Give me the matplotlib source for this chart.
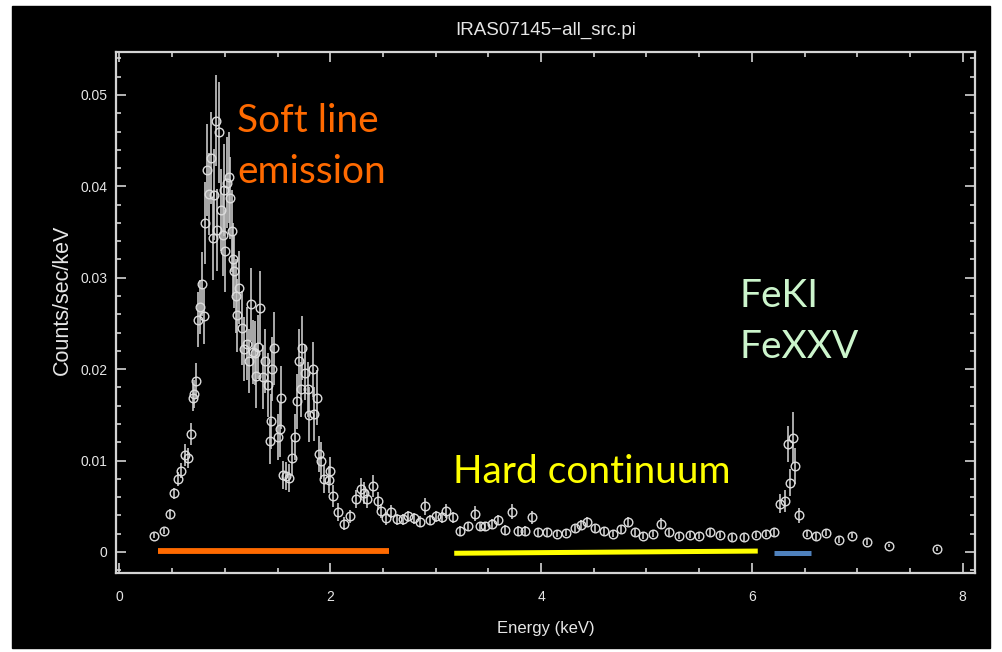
import numpy as np
import matplotlib
matplotlib.use("Agg")
import matplotlib.pyplot as plt
from matplotlib.patches import Rectangle
from matplotlib.ticker import MultipleLocator

# spectrum: energy (keV), rate (counts/sec/keV), 1-sigma error
energy = [0.33, 0.42, 0.48, 0.52, 0.555, 0.58, 0.62, 0.65, 0.675, 0.695,
          0.71, 0.73, 0.745, 0.76, 0.78, 0.80, 0.81, 0.83, 0.85, 0.87,
          0.885, 0.90, 0.915, 0.93, 0.945, 0.96, 0.98, 0.99, 1.00, 1.02,
          1.036, 1.05, 1.065, 1.075, 1.09, 1.105, 1.115, 1.13, 1.16, 1.18,
          1.21, 1.23, 1.245, 1.27, 1.285, 1.30, 1.31, 1.33, 1.36, 1.38,
          1.41, 1.43, 1.44, 1.45, 1.47, 1.50, 1.52, 1.53, 1.55, 1.58,
          1.61, 1.64, 1.665, 1.68, 1.70, 1.72, 1.73, 1.76, 1.79, 1.80,
          1.84, 1.85, 1.87, 1.89, 1.915, 1.94, 1.985, 2.00, 2.03, 2.07,
          2.13, 2.19, 2.24, 2.29, 2.32, 2.35, 2.41, 2.45, 2.48, 2.53,
          2.58, 2.63, 2.69, 2.74, 2.79, 2.85, 2.90, 2.95, 3.00, 3.06,
          3.10, 3.16, 3.23, 3.31, 3.37, 3.42, 3.47, 3.53, 3.59, 3.66,
          3.72, 3.78, 3.85, 3.91, 3.97, 4.06, 4.15, 4.24, 4.32, 4.38,
          4.44, 4.51, 4.60, 4.68, 4.76, 4.82, 4.89, 4.97, 5.06, 5.14,
          5.21, 5.31, 5.41, 5.50, 5.60, 5.70, 5.81, 5.93, 6.04, 6.13,
          6.21, 6.27, 6.31, 6.34, 6.36, 6.39, 6.41, 6.45, 6.52, 6.61,
          6.70, 6.83, 6.95, 7.09, 7.30, 7.76]
rate = [0.0018, 0.0023, 0.0042, 0.0064, 0.0080, 0.0089, 0.0106, 0.0103, 0.0129, 0.0169,
        0.0173, 0.0187, 0.0254, 0.0268, 0.0293, 0.0258, 0.0360, 0.0418, 0.0392, 0.0431,
        0.0343, 0.0391, 0.0472, 0.0352, 0.0459, 0.0374, 0.0347, 0.0396, 0.0329, 0.0404,
        0.0410, 0.0387, 0.0351, 0.0320, 0.0307, 0.0280, 0.0259, 0.0289, 0.0245, 0.0222,
        0.0228, 0.0209, 0.0271, 0.0219, 0.0218, 0.0192, 0.0224, 0.0267, 0.0191, 0.0209,
        0.0183, 0.0121, 0.0143, 0.0200, 0.0223, 0.0126, 0.0134, 0.0169, 0.0084, 0.0083,
        0.0081, 0.0103, 0.0126, 0.0165, 0.0209, 0.0178, 0.0223, 0.0196, 0.0178, 0.0150,
        0.0200, 0.0151, 0.0169, 0.0107, 0.0100, 0.0080, 0.0079, 0.0089, 0.0061, 0.0044,
        0.0031, 0.0039, 0.0058, 0.0069, 0.0065, 0.0058, 0.0072, 0.0056, 0.0045, 0.0037,
        0.0044, 0.0036, 0.0036, 0.0039, 0.0037, 0.0033, 0.0050, 0.0035, 0.0039, 0.0038,
        0.0045, 0.0038, 0.0023, 0.0028, 0.0042, 0.0028, 0.0028, 0.0031, 0.0035, 0.0024,
        0.0044, 0.0023, 0.0023, 0.0038, 0.0022, 0.0022, 0.0020, 0.0021, 0.0026, 0.0030,
        0.0033, 0.0026, 0.0023, 0.0020, 0.0025, 0.0033, 0.0022, 0.0018, 0.0020, 0.0031,
        0.0022, 0.0018, 0.0019, 0.0018, 0.0022, 0.0019, 0.0016, 0.0016, 0.0019, 0.0020,
        0.0022, 0.0053, 0.0056, 0.0118, 0.0076, 0.0125, 0.0094, 0.0040, 0.0020, 0.0017,
        0.0021, 0.0013, 0.0018, 0.0011, 0.0007, 0.0003]
rate_err = [0.0003, 0.0003, 0.0005, 0.0006, 0.0008, 0.0008, 0.0012, 0.0011, 0.0012, 0.0015,
            0.0015, 0.0020, 0.0030, 0.0030, 0.0035, 0.0030, 0.0045, 0.0050, 0.0045, 0.0050,
            0.0045, 0.0050, 0.0050, 0.0045, 0.0055, 0.0045, 0.0045, 0.0050, 0.0045, 0.0050,
            0.0050, 0.0045, 0.0045, 0.0040, 0.0040, 0.0040, 0.0040, 0.0040, 0.0040, 0.0035,
            0.0040, 0.0035, 0.0040, 0.0035, 0.0035, 0.0035, 0.0035, 0.0040, 0.0035, 0.0035,
            0.0035, 0.0025, 0.0030, 0.0035, 0.0040, 0.0025, 0.0030, 0.0035, 0.0015, 0.0015,
            0.0015, 0.0020, 0.0025, 0.0030, 0.0035, 0.0030, 0.0035, 0.0030, 0.0030, 0.0030,
            0.0030, 0.0030, 0.0030, 0.0020, 0.0020, 0.0015, 0.0015, 0.0015, 0.0012, 0.0010,
            0.0007, 0.0007, 0.0010, 0.0012, 0.0012, 0.0010, 0.0012, 0.0010, 0.0008, 0.0007,
            0.0007, 0.0006, 0.0006, 0.0006, 0.0006, 0.0006, 0.0009, 0.0006, 0.0006, 0.0006,
            0.0008, 0.0006, 0.0005, 0.0005, 0.0008, 0.0005, 0.0005, 0.0005, 0.0006, 0.0005,
            0.0008, 0.0005, 0.0005, 0.0007, 0.0004, 0.0004, 0.0004, 0.0004, 0.0004, 0.0005,
            0.0005, 0.0004, 0.0004, 0.0004, 0.0004, 0.0005, 0.0004, 0.0004, 0.0004, 0.0006,
            0.0004, 0.0004, 0.0004, 0.0004, 0.0004, 0.0004, 0.0004, 0.0004, 0.0004, 0.0004,
            0.0004, 0.0010, 0.0012, 0.0020, 0.0015, 0.0028, 0.0020, 0.0008, 0.0004, 0.0004,
            0.0004, 0.0003, 0.0003, 0.0003, 0.0002, 0.0002]

# energy bands marked under the spectrum (start keV, end keV, level)
soft_band = [0.368, 2.554, 0.0001, 0.0001]
hard_band = [3.176, 6.056, -0.00014, 0.0001]
iron_band = [6.209, 6.56, -0.0001, -0.0001]

fig = plt.figure(figsize=(10.02, 6.52), dpi=100, facecolor="white")
fig.patches.append(Rectangle((12 / 1002, 4 / 652), 978 / 1002, 642 / 652,
                             transform=fig.transFigure, color="black", zorder=-5))

ax = fig.add_axes([116 / 1002, 1 - 573 / 652, 859 / 1002, 521 / 652])
ax.set_facecolor("black")

fg = "#d4d4d4"
ax.errorbar(energy, rate, yerr=rate_err, fmt="o", ms=6.2, mfc="none", mec="#dcdcdc",
            mew=1.0, ecolor="#c8c8c8", elinewidth=1.2, capsize=0, zorder=3)

# coloured bands
ax.plot(soft_band[:2], soft_band[2:], color="#ff6a00", lw=4.2, solid_capstyle="butt", zorder=4)
ax.plot(hard_band[:2], hard_band[2:], color="#ffff00", lw=3.6, solid_capstyle="butt", zorder=4)
ax.plot(iron_band[:2], iron_band[2:], color="#4f81bd", lw=3.6, solid_capstyle="butt", zorder=4)

ax.set_xlim(-0.033, 8.117)
ax.set_ylim(-0.0023, 0.0547)
ax.xaxis.set_major_locator(MultipleLocator(2))
ax.xaxis.set_minor_locator(MultipleLocator(0.5))
ax.yaxis.set_major_locator(MultipleLocator(0.01))
ax.yaxis.set_minor_locator(MultipleLocator(0.002))
ax.set_xticks([0, 2, 4, 6, 8])
ax.set_xticklabels(["0", "2", "4", "6", "8"])
ax.set_yticks([0, 0.01, 0.02, 0.03, 0.04, 0.05])
ax.set_yticklabels(["0", "0.01", "0.02", "0.03", "0.04", "0.05"])

for s in ax.spines.values():
    s.set_color(fg)
    s.set_linewidth(1.6)
ax.tick_params(which="both", direction="in", top=True, right=True, colors=fg,
               labelcolor="#e6e6e6", labelsize=10, width=1.2)
ax.tick_params(which="major", length=7)
ax.tick_params(which="minor", length=3.5)
ax.tick_params(axis="x", pad=12)
ax.tick_params(axis="y", pad=6)
for lab in ax.get_xticklabels() + ax.get_yticklabels():
    lab.set_family("Liberation Sans")

fig.text(545.5 / 1002, 1 - 30 / 652, "IRAS07145\u2212all_src.pi", ha="center", va="center",
         color="#e6e6e6", fontsize=13.5, family="Liberation Sans")
fig.text(545.5 / 1002, 1 - 629 / 652, "Energy (keV)", ha="center", va="center",
         color="#e6e6e6", fontsize=12, family="Liberation Sans")
fig.text(62 / 1002, 1 - 300 / 652, "Counts/sec/keV", ha="center", va="center", rotation=90,
         color="#e6e6e6", fontsize=15.5, family="Liberation Sans")

# annotations
tk = dict(fontsize=28, family="Lato", va="baseline", ha="left", zorder=5)
ax.text(1.115, 0.0459, "Soft line", color="#ff6a00", **tk)
ax.text(1.115, 0.0404, "emission", color="#ff6a00", **tk)
ax.text(3.163, 0.00757, "Hard continuum", color="#ffff00", **tk)
ax.text(5.887, 0.0268, "FeKI", color="#ccf5cc", **tk)
ax.text(5.887, 0.0212, "FeXXV", color="#ccf5cc", **tk)

fig.savefig("out.png", dpi=100, facecolor=fig.get_facecolor())
